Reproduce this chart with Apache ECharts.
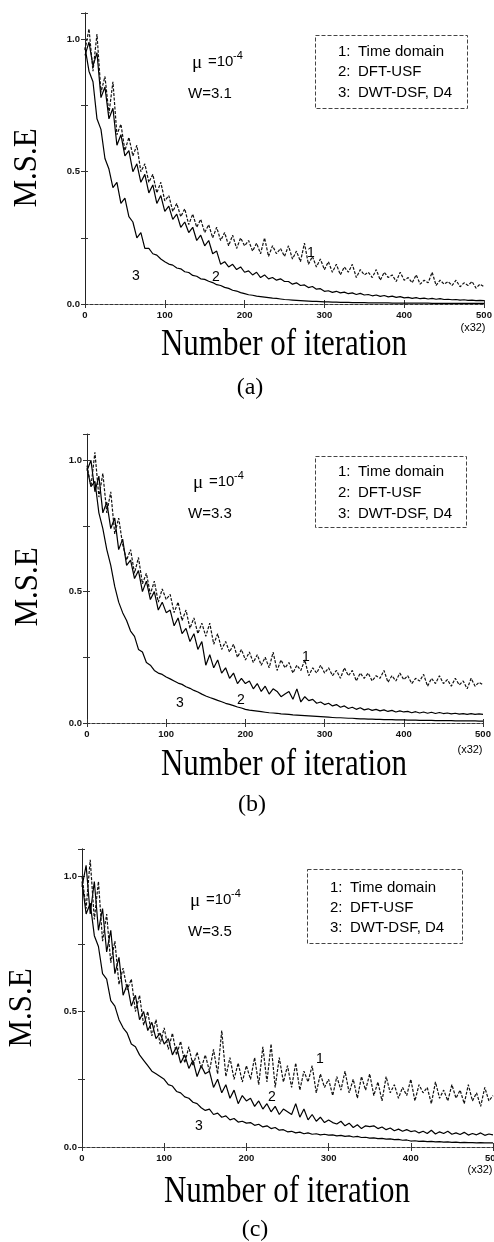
<!DOCTYPE html>
<html>
<head>
<meta charset="utf-8">
<title>M.S.E vs number of iteration</title>
<script src="https://cdn.jsdelivr.net/npm/echarts@6/dist/echarts.min.js"></script>
<style>
html, body { margin: 0; padding: 0; background: #fff; }
#chart { width: 494px; height: 1242px; }
</style>
</head>
<body>
<div id="chart"></div>
<script>
const STEP = 5;
const xTicks = [0, 100, 200, 300, 400, 500];
const yTickLabels = ['0.0', '0.5', '1.0'];
const legendNames = ['1:', '2:', '3:'];
const legendTexts = ['Time domain', 'DFT-USF', 'DWT-DSF, D4'];
const panelTags = ['(a)', '(b)', '(c)'];
const panelW = ['W=3.1', 'W=3.3', 'W=3.5'];

// (a) W=3.1
const timeA = [
  .96,1.04,.88,1.02,.80,.86,.72,.84,.64,.68,.58,
  .63,.56,.60,.50,.53,.46,.49,.42,.46,.39,
  .41,.35,.38,.33,.36,.30,.34,.29,.32,.27,
  .30,.25,.29,.24,.27,.22,.26,.21,.25,.22,
  .24,.20,.23,.19,.25,.18,.22,.19,.21,.18,
  .22,.17,.20,.16,.23,.15,.18,.14,.17,.13,
  .16,.12,.15,.11,.14,.12,.15,.10,.13,.11,
  .12,.10,.13,.09,.12,.10,.11,.085,.12,.09,
  .10,.08,.11,.075,.09,.08,.12,.07,.09,.075,
  .085,.07,.09,.065,.08,.07,.085,.06,.075,.065
];
const dftA = [
  .94,.99,.90,.95,.78,.82,.70,.74,.60,.64,.56,
  .58,.50,.53,.46,.49,.42,.45,.38,.41,.35,
  .37,.32,.34,.29,.31,.27,.29,.24,.26,.22,
  .24,.19,.20,.15,.16,.14,.15,.13,.14,.12,
  .125,.11,.12,.10,.11,.095,.10,.09,.095,.085,
  .085,.075,.08,.07,.072,.062,.066,.056,.058,.048,
  .05,.044,.048,.042,.045,.039,.042,.036,.04,.034,
  .036,.031,.034,.029,.032,.027,.03,.025,.028,.023,
  .025,.021,.024,.02,.022,.019,.021,.018,.02,.017,
  .018,.016,.017,.015,.016,.014,.015,.013,.014,.013
];
const dwtA = [
  .97,.88,.84,.70,.66,.55,.51,.44,.46,.38,.40,
  .33,.31,.25,.27,.21,.21,.19,.185,.17,.16,
  .151,.147,.136,.133,.122,.119,.108,.105,.095,.093,
  .086,.081,.073,.070,.063,.059,.052,.049,.043,.039,
  .035,.033,.030,.028,.026,.024,.022,.021,.019,.017,
  .016,.015,.014,.013,.012,.011,.010,.010,.009,.008,
  .008,.007,.007,.006,.006,.006,.005,.005,.005,.005,
  .004,.004,.004,.004,.004,.004,.003,.003,.003,.003,
  .003,.003,.003,.003,.003,.003,.002,.002,.002,.002,
  .002,.002,.002,.002,.002,.002,.002,.002,.002,.002
];

// (b) W=3.3
const timeB = [
  .98,.90,1.03,.86,.95,.80,.88,.72,.78,.68,.62,
  .66,.57,.63,.53,.57,.49,.54,.46,.51,.47,
  .49,.42,.46,.39,.43,.36,.40,.34,.38,.33,
  .38,.30,.34,.28,.31,.27,.30,.25,.28,.24,
  .27,.23,.26,.22,.25,.21,.27,.20,.24,.21,
  .23,.19,.22,.20,.24,.18,.21,.19,.22,.19,
  .21,.18,.20,.17,.21,.18,.20,.16,.19,.17,
  .19,.16,.18,.17,.20,.155,.18,.16,.19,.165,
  .18,.15,.17,.16,.185,.14,.17,.15,.18,.15,
  .165,.14,.17,.145,.16,.13,.17,.14,.155,.145
];
const dftB = [
  .96,1.0,.88,.94,.80,.84,.74,.78,.66,.70,.60,
  .62,.55,.58,.50,.54,.47,.50,.43,.46,.42,
  .43,.37,.40,.34,.36,.31,.34,.28,.31,.22,
  .26,.21,.24,.19,.21,.17,.19,.15,.17,.15,
  .16,.13,.15,.12,.14,.11,.13,.12,.10,.11,
  .12,.09,.13,.08,.10,.085,.09,.075,.08,.07,
  .075,.065,.07,.06,.065,.055,.06,.052,.058,.05,
  .054,.048,.052,.046,.05,.044,.048,.042,.046,.042,
  .044,.039,.043,.038,.042,.037,.041,.036,.04,.036,
  .038,.035,.037,.034,.036,.033,.036,.033,.035,.033
];
const dwtB = [
  .97,.90,.92,.80,.74,.66,.60,.52,.46,.42,.39,
  .35,.33,.28,.27,.23,.22,.20,.19,.185,.175,
  .168,.160,.152,.147,.138,.132,.124,.118,.110,.103,
  .097,.092,.086,.081,.075,.071,.066,.061,.057,.052,
  .049,.047,.045,.043,.041,.039,.038,.037,.035,.034,
  .033,.031,.030,.029,.028,.027,.026,.025,.024,.023,
  .022,.021,.020,.020,.019,.018,.018,.017,.016,.016,
  .015,.015,.014,.014,.013,.013,.013,.012,.012,.012,
  .011,.011,.011,.010,.010,.010,.010,.009,.009,.009,
  .009,.009,.008,.008,.008,.008,.008,.008,.007,.007
];

// (c) W=3.5
const timeC = [
  1.0,.88,1.06,.84,.98,.76,.86,.68,.76,.60,.66,
  .58,.62,.50,.56,.45,.50,.41,.47,.38,.44,
  .36,.42,.34,.39,.31,.37,.30,.35,.29,.34,
  .28,.36,.27,.43,.26,.33,.25,.31,.24,.30,
  .25,.33,.23,.37,.24,.38,.22,.33,.24,.30,
  .22,.31,.21,.28,.24,.30,.20,.27,.22,.25,
  .19,.26,.21,.28,.20,.25,.18,.26,.21,.27,
  .19,.24,.17,.26,.20,.23,.18,.22,.19,.25,
  .17,.23,.20,.22,.16,.24,.18,.21,.17,.23,
  .18,.21,.16,.23,.17,.20,.15,.22,.17,.19
];
const dftC = [
  .96,1.04,.86,.98,.80,.88,.72,.80,.64,.70,.56,
  .60,.52,.56,.47,.50,.43,.46,.40,.42,.38,
  .40,.34,.37,.31,.34,.29,.32,.26,.30,.27,
  .28,.22,.25,.20,.23,.18,.21,.16,.19,.17,
  .18,.15,.17,.14,.16,.13,.15,.12,.14,.13,
  .12,.16,.11,.14,.10,.12,.095,.11,.09,.10,
  .09,.085,.095,.078,.088,.072,.082,.068,.078,.075,
  .078,.068,.074,.064,.07,.06,.066,.058,.064,.057,
  .06,.052,.058,.05,.062,.048,.056,.05,.058,.047,
  .052,.046,.054,.044,.05,.045,.052,.043,.048,.045
];
const dwtC = [
  .98,.86,.90,.78,.74,.64,.62,.54,.52,.47,.44,
  .42,.38,.37,.34,.32,.30,.28,.27,.26,.25,
  .23,.225,.205,.20,.185,.18,.165,.16,.145,.135,
  .14,.12,.125,.11,.115,.10,.105,.092,.095,.088,
  .09,.08,.084,.074,.078,.068,.072,.062,.064,.056,
  .058,.052,.055,.049,.052,.047,.049,.045,.047,.044,
  .045,.041,.043,.039,.041,.037,.039,.035,.036,.033,
  .034,.031,.032,.029,.030,.027,.028,.025,.026,.022,
  .023,.021,.022,.020,.021,.019,.020,.018,.019,.017,
  .018,.016,.017,.016,.016,.015,.016,.015,.015,.015
];

const panelData = [
  [timeA, dftA, dwtA],
  [timeB, dftB, dwtB],
  [timeC, dftC, dwtC]
];

// layout of each panel (pixels)
const panels = [
  { left: 85, top: 13, width: 399, height: 291,
    mse: [27, 168], xname: [284, 345], tag: [250, 388], x32: [473, 328],
    mu: [192, 62], w: [188, 94], box: [315, 35, 152, 73], rows: [52, 72, 93], numX: 338, txtX: 358,
    lab: [[311, 253], [216, 277], [136, 276]] },
  { left: 87, top: 434, width: 396, height: 289,
    mse: [28, 587], xname: [284, 765], tag: [252, 805], x32: [470, 750],
    mu: [193, 482], w: [188, 514], box: [315, 456, 151, 71], rows: [472, 493, 514], numX: 338, txtX: 358,
    lab: [[306, 657], [241, 700], [180, 703]] },
  { left: 82, top: 849, width: 411, height: 298,
    mse: [22, 1008], xname: [287, 1192], tag: [255, 1230], x32: [480, 1170],
    mu: [190, 900], w: [188, 932], box: [307, 869, 155, 74], rows: [888, 908, 928], numX: 330, txtX: 350,
    lab: [[320, 1059], [272, 1097], [199, 1126]] }
];

const SANS = '"Liberation Sans", Arial, sans-serif';
const SERIF = '"Liberation Serif", "Times New Roman", serif';

const frameDash = { color: '#333', width: 1, type: [3, 2] };

function text(x, y, s, font, extra) {
  return Object.assign({
    type: 'text', x: x, y: y, silent: true,
    style: {
      text: s, font: font, fill: '#000',
      align: 'center', verticalAlign: 'middle',
      textAlign: 'center', textVerticalAlign: 'middle'
    }
  }, extra || {});
}

function leftText(x, y, s, font, z) {
  return {
    type: 'text', x: x, y: y, silent: true, z: z || 1,
    style: {
      text: s, font: font, fill: '#000',
      align: 'left', verticalAlign: 'middle',
      textAlign: 'left', textVerticalAlign: 'middle'
    }
  };
}

const grids = [], xAxes = [], yAxes = [], series = [], graphics = [];

panels.forEach((p, k) => {
  grids.push({ left: p.left, top: p.top, width: p.width, height: p.height, outerBoundsMode: 'none' });

  xAxes.push({
    gridIndex: k, type: 'value', min: 0, max: 500, interval: 100,
    axisLine: { lineStyle: frameDash },
    axisTick: { inside: true, length: 4, lineStyle: { color: '#333' } },
    axisLabel: {
      fontSize: 9.5, fontWeight: 'bold', fontFamily: SANS, color: '#111', margin: 6,
      formatter: v => (xTicks.indexOf(v) >= 0 ? String(v) : '')
    },
    splitLine: { show: false }
  });
  xAxes.push({
    gridIndex: k, type: 'value', position: 'top', min: 0, max: 500, interval: 100,
    axisLine: { lineStyle: frameDash },
    axisTick: { inside: true, length: 4, lineStyle: { color: '#333' } },
    axisLabel: { show: false },
    splitLine: { show: false }
  });
  yAxes.push({
    gridIndex: k, type: 'value', min: 0, max: 1.1, interval: 0.25,
    axisLine: { show: true, lineStyle: frameDash },
    axisTick: { show: true, inside: true, length: 3, lineStyle: { color: '#333' } },
    axisLabel: {
      fontSize: 9.5, fontWeight: 'bold', fontFamily: SANS, color: '#111', margin: 5,
      formatter: v => {
        const i = Math.round(v * 2);
        return (Math.abs(v * 2 - i) < 1e-6 && i <= 2) ? yTickLabels[i] : '';
      }
    },
    splitLine: { show: false }
  });
  yAxes.push({
    gridIndex: k, type: 'value', position: 'right', min: 0, max: 1.1, interval: 0.25,
    axisLine: { show: true, lineStyle: { color: '#222', width: 1 } },
    axisTick: { show: true, inside: true, length: 4, lineStyle: { color: '#333' } },
    axisLabel: { show: false },
    splitLine: { show: false }
  });

  panelData[k].forEach((arr, j) => {
    series.push({
      type: 'line',
      xAxisIndex: 2 * k, yAxisIndex: 2 * k,
      data: arr.map((v, i) => [i * STEP, v]),
      symbol: 'none', showSymbol: false, animation: false, silent: true,
      lineStyle: j === 0
        ? { color: '#111', width: 1.2, type: [3, 1.5] }
        : { color: '#000', width: 1.2 },
      z: 3 - j
    });
  });

  // axis titles, panel tag
  graphics.push(text(p.mse[0], p.mse[1], 'M.S.E', '31px ' + SERIF,
    { rotation: Math.PI / 2, scaleY: 1.12 }));
  graphics.push(text(p.xname[0], p.xname[1], 'Number of iteration', '31px ' + SERIF,
    { scaleY: 1.22 }));
  graphics.push(text(p.tag[0], p.tag[1], panelTags[k], '24px ' + SERIF));
  graphics.push(text(p.x32[0], p.x32[1], '(x32)', '11px ' + SANS));

  // parameters
  graphics.push(leftText(p.mu[0], p.mu[1] + 1, 'μ', '19px ' + SERIF));
  graphics.push(leftText(p.mu[0] + 16, p.mu[1], '=10', '15px ' + SANS));
  graphics.push(leftText(p.mu[0] + 41, p.mu[1] - 6, '-4', '11px ' + SANS));
  graphics.push(leftText(p.w[0], p.w[1], panelW[k], '15px ' + SANS));

  // legend box
  graphics.push({
    type: 'rect', silent: true,
    shape: { x: p.box[0] + 0.5, y: p.box[1] + 0.5, width: p.box[2], height: p.box[3] },
    style: { fill: '#fff', stroke: '#444', lineWidth: 1, lineDash: [4, 2] },
    z: 10
  });
  p.rows.forEach((ry, j) => {
    graphics.push(leftText(p.numX, ry, legendNames[j], '15px ' + SANS, 11));
    graphics.push(leftText(p.txtX, ry, legendTexts[j], '15px ' + SANS, 11));
  });

  // curve numbers
  p.lab.forEach((pt, j) => {
    graphics.push(text(pt[0], pt[1], String(j + 1), '14px ' + SANS));
  });
});

const chart = echarts.init(document.getElementById('chart'), null, { renderer: 'canvas' });
chart.setOption({
  backgroundColor: '#fff',
  animation: false,
  grid: grids,
  xAxis: xAxes,
  yAxis: yAxes,
  series: series,
  graphic: { elements: graphics }
});
</script>
</body>
</html>
